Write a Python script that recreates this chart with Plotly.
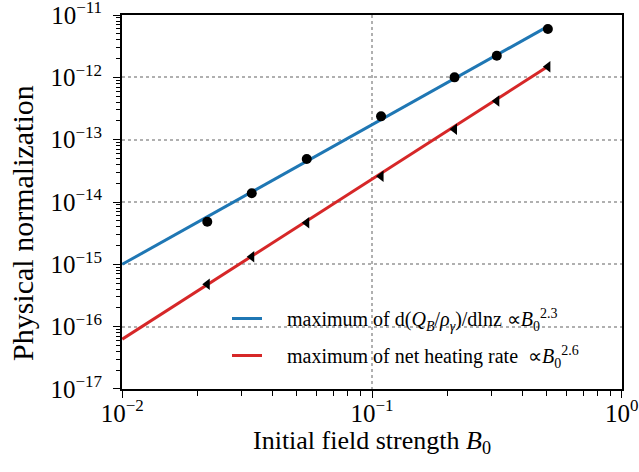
import plotly.graph_objects as go

# Initial field strength B0 of each run
b0 = [0.0219, 0.033, 0.0548, 0.1087, 0.214, 0.316, 0.506]

# Maximum of d(Q_B/rho_gamma)/dln z for each run
max_dq = [4.83e-15, 1.38e-14, 4.9e-14, 2.37e-13, 1.0e-12, 2.22e-12, 5.96e-12]

# Maximum of the net heating rate for each run
max_heat = [4.78e-16, 1.32e-15, 4.65e-15, 2.58e-14, 1.47e-13, 4.17e-13, 1.48e-12]

# Power-law fits, given by their end points
fit_b0 = [0.01, 0.5]
fit_dq = [1.0e-15, 6.4e-12]
fit_heat = [6.3e-17, 1.45e-12]

# Decade exponents carrying tick labels
x_decades = [-2, -1, 0]
y_decades = [-17, -16, -15, -14, -13, -12, -11]

BLUE = "#1f77b4"
RED = "#d62728"
FONT = "Liberation Serif"


def power_label(e):
    exp = str(e).replace("-", "−")
    return "10<sup><span style='font-size:17px'>%s</span></sup>" % exp


def minor_vals(decades):
    return [k * 10.0 ** e for e in decades[:-1] for k in range(2, 10)]


PAD = "\u2002\u2002"
label_dq = (PAD + "maximum of d(<i>Q</i><sub><i>B</i></sub>/<i>ρ</i><sub><i>γ</i></sub>)/dlnz"
            " ∝<i>B</i><sub>0</sub><sup>2.3</sup>")
label_heat = PAD + "maximum of net heating rate  ∝<i>B</i><sub>0</sub><sup>2.6</sup>"

fig = go.Figure()
fig.add_trace(go.Scatter(x=fit_b0, y=fit_dq, mode="lines", line=dict(color=BLUE, width=3),
                         name=label_dq, legend="legend"))
fig.add_trace(go.Scatter(x=b0, y=max_dq, mode="markers",
                         marker=dict(symbol="circle", size=10, color="black"), showlegend=False))
fig.add_trace(go.Scatter(x=fit_b0, y=fit_heat, mode="lines", line=dict(color=RED, width=3),
                         name=label_heat, legend="legend2"))
fig.add_trace(go.Scatter(x=b0, y=max_heat, mode="markers",
                         marker=dict(symbol="triangle-left", size=10, color="black"), showlegend=False))

axis_common = dict(
    type="log",
    automargin=False,
    ticklabeloverflow="allow",
    showline=True, linecolor="black", linewidth=1.8, mirror=True,
    ticks="outside", ticklen=7, tickwidth=1.3, tickcolor="black",
    showgrid=True, gridcolor="#b0b0b0", gridwidth=1.5, griddash="dot",
    zeroline=False,
    tickfont=dict(family=FONT, size=25, color="black"),
    tickmode="array",
)

fig.update_xaxes(**axis_common, range=[-2.001, 0.001],
                 tickvals=[10.0 ** e for e in x_decades],
                 ticktext=[power_label(e) for e in x_decades],
                 ticklabelstandoff=-6,
                 minor=dict(ticks="outside", ticklen=5, tickwidth=1, tickcolor="black",
                            tickmode="array", tickvals=minor_vals(x_decades), showgrid=False))
fig.update_yaxes(**axis_common, range=[-17.001, -10.999],
                 tickvals=[10.0 ** e for e in y_decades],
                 ticktext=[power_label(e) for e in y_decades],
                 ticklabelstandoff=6,
                 minor=dict(ticks="outside", ticklen=4, tickwidth=1, tickcolor="black",
                            tickmode="array", tickvals=minor_vals(y_decades), showgrid=False))

legend_common = dict(xanchor="left", yanchor="middle", bgcolor="rgba(0,0,0,0)",
                     borderwidth=0, font=dict(family=FONT, size=20, color="black"))
fig.update_layout(
    width=639, height=472,
    margin=dict(l=122, r=17, t=15, b=83),
    plot_bgcolor="white", paper_bgcolor="white",
    font=dict(family=FONT, color="black"),
    legend=dict(**legend_common, x=0.21, y=(389 - 318.5) / 374),
    legend2=dict(**legend_common, x=0.21, y=(389 - 355.5) / 374),
    annotations=[
        dict(text="Physical normalization", textangle=-90,
             xref="paper", yref="paper", x=-0.2, y=(389 - 223) / 374,
             xanchor="center", yanchor="middle", showarrow=False,
             font=dict(family=FONT, size=30, color="black")),
        dict(text="Initial field strength <i>B</i><sub>0</sub>",
             xref="paper", yref="paper", x=0.5, y=-(442 - 389) / 374,
             xanchor="center", yanchor="middle", showarrow=False,
             font=dict(family=FONT, size=26, color="black")),
    ],
)

fig.write_html("out.html")
